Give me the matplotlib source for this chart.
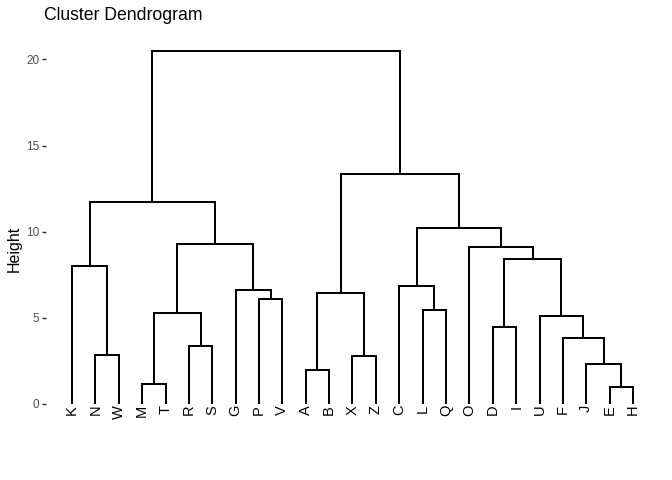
import matplotlib
matplotlib.use("Agg")
import matplotlib.pyplot as plt

# leaf order as shown along the bottom
leaves = ["K", "N", "W", "M", "T", "R", "S", "G", "P", "V", "A", "B", "X",
          "Z", "C", "L", "Q", "O", "D", "I", "U", "F", "J", "E", "H"]

# hclust-style merges: a letter = leaf, an int = earlier merge (1-based)
merge_left = ["E", "M", "A", "J", "X", "N", "R", "F", "D", "U", 2, "L", "P",
              3, "G", "C", "K", 9, "O", 11, 16, 17, 14, 22]
merge_right = ["H", "T", "B", 1, "Z", "W", "S", 4, "I", 8, 7, "Q", "V",
               5, 13, 12, 6, 10, 18, 15, 19, 20, 21, 23]
merge_height = [0.99, 1.14, 1.97, 2.32, 2.80, 2.84, 3.38, 3.85, 4.49, 5.12,
                5.28, 5.46, 6.08, 6.42, 6.62, 6.85, 8.03, 8.43, 9.13, 9.30,
                10.2, 11.70, 13.35, 20.51]

y_ticks = [0, 5, 10, 15, 20]

W, H = 672, 480
fig = plt.figure(figsize=(W / 96, H / 96), dpi=96)
left, right, top, bottom = 46, 650, 30, 460
ax = fig.add_axes([left / W, 1 - bottom / H, (right - left) / W, (bottom - top) / H])

font = "Liberation Sans"
lw = 1.5

leaf_x = {name: i + 1 for i, name in enumerate(leaves)}
node_x = []
node_h = []


def child_pos(c):
    if isinstance(c, str):
        return leaf_x[c], 0.0
    return node_x[c - 1], node_h[c - 1]


for a, b, h in zip(merge_left, merge_right, merge_height):
    xa, ha = child_pos(a)
    xb, hb = child_pos(b)
    ax.plot([xa, xa, xb, xb], [ha, h, h, hb], color="black", lw=lw,
            solid_joinstyle="miter", solid_capstyle="butt")
    node_x.append((xa + xb) / 2)
    node_h.append(h)

for name, x in leaf_x.items():
    ax.text(x, -0.05, name, rotation=90, ha="center", va="top",
            fontsize=11, family=font, color="black")

# pixel mapping: leaf 1 -> 72px, leaf 25 -> 633px; 0 -> 404px, 20 -> 59px
xs = (633 - 72) / 24
ax.set_xlim(1 - (72 - left) / xs, 25 + (right - 633) / xs)
ys = (404 - 59.4) / 20
ax.set_ylim(-(bottom - 404) / ys, (404 - top) / ys)

ax.set_yticks(y_ticks)
ax.set_yticklabels([str(t) for t in y_ticks], family=font, fontsize=8.8, color="#4D4D4D")
ax.tick_params(axis="y", length=3, width=1.1, color="#333333", pad=2)
ax.set_xticks([])
for s in ax.spines.values():
    s.set_visible(False)

fig.text(14 / W, 1 - 249 / H, "Height", rotation=90, ha="center", va="center",
         family=font, fontsize=12)

fig.text(44 / W, 1 - 20.5 / H, "Cluster Dendrogram", ha="left", va="baseline",
         family=font, fontsize=13.2)

fig.savefig("out.png", dpi=96)
